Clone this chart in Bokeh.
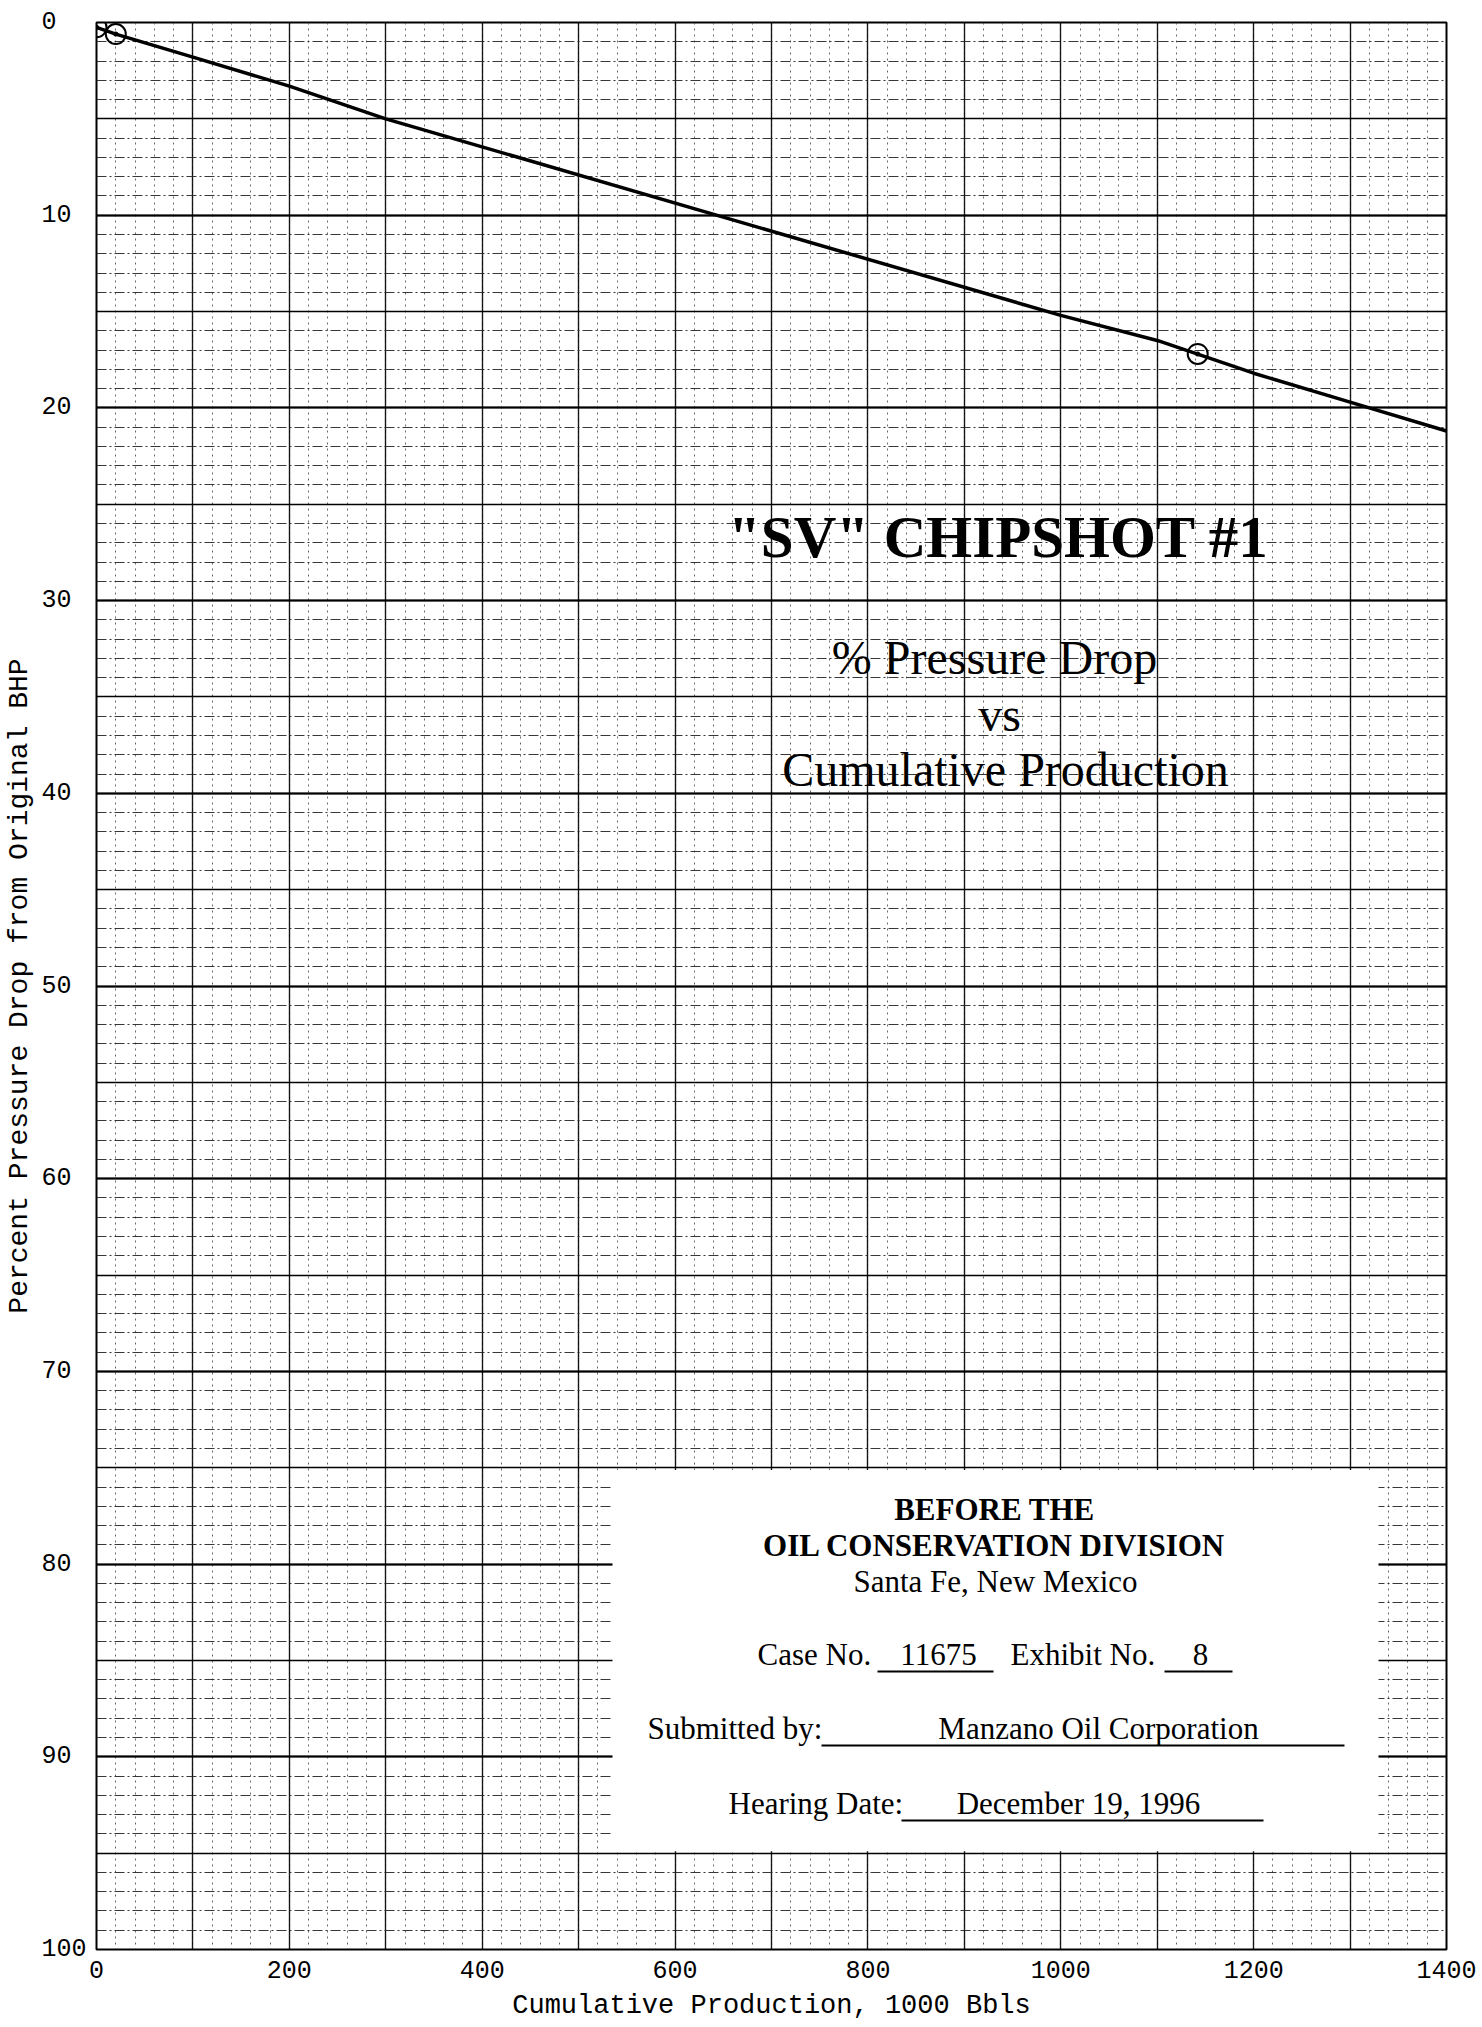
from bokeh.plotting import figure
from bokeh.models import (Range1d, SingleIntervalTicker, FixedTicker, Grid, BoxAnnotation,
                          CustomJSTickFormatter)
from bokeh.core.properties import value
from bokeh.embed import file_html
from bokeh.resources import INLINE

# ---------------- data ----------------
measured_x = [0, 20, 1142]          # cumulative production, 1000 Bbls
measured_y = [0.25, 0.6, 17.2]      # percent pressure drop
trend_x = [0, 20, 100, 200, 300, 1000, 1100, 1200, 1300, 1400]
trend_y = [0.25, 0.6, 1.8, 3.3, 5.0, 15.2, 16.5, 18.2, 19.7, 21.2]

x_ticks = [0, 200, 400, 600, 800, 1000, 1200, 1400]
y_ticks = [0, 10, 20, 30, 40, 50, 60, 70, 80, 90, 100]

x_label = "Cumulative Production, 1000 Bbls"
y_label = "Percent Pressure Drop from Original BHP"
title_text = '"SV" CHIPSHOT #1'
subtitle_lines = ["% Pressure Drop", "vs", "Cumulative Production"]
box_bold_lines = ["BEFORE THE", "OIL CONSERVATION DIVISION"]
box_place = "Santa Fe, New Mexico"
case_no = "11675"
exhibit_no = "8"
submitted_by = "Manzano Oil Corporation"
hearing_date = "December 19, 1996"

# ---------------- layout helpers (page pixels -> data units) ----------------
FRAME_L, FRAME_T, FRAME_W, FRAME_H = 96, 22, 1350, 1927
BORDER_B, BORDER_R = 77, 30


def X(px):
    return (px - FRAME_L) * 1400.0 / FRAME_W


def Y(py):
    return (py - FRAME_T) * 100.0 / FRAME_H


def YB(py, fs):
    # anchor for a text whose baseline should sit at page pixel py
    return Y(py - 0.42 * fs)


p = figure(width=FRAME_L + FRAME_W + BORDER_R, height=FRAME_T + FRAME_H + BORDER_B,
           x_range=Range1d(0, 1400), y_range=Range1d(100, 0),
           output_backend="svg", toolbar_location=None,
           min_border_left=FRAME_L, min_border_right=BORDER_R,
           min_border_top=FRAME_T, min_border_bottom=BORDER_B,
           background_fill_color="white", border_fill_color="white",
           outline_line_color="black", outline_line_width=2)

# axes
for ax in (p.xaxis, p.yaxis):
    ax.axis_line_color = None
    ax.major_tick_line_color = None
    ax.minor_tick_line_color = None
    ax.major_tick_out = 0
    ax.major_tick_in = 0
    ax.minor_tick_out = 0
    ax.minor_tick_in = 0
    ax.major_label_text_font = "Liberation Mono"
    ax.major_label_text_font_size = "25px"
    ax.major_label_text_color = "black"
    ax.axis_label_text_font = "Liberation Mono"
    ax.axis_label_text_font_style = "normal"
    ax.axis_label_text_color = "black"

p.xaxis.axis_label_text_font_size = "27px"
p.yaxis.axis_label_text_font_size = "28px"
p.xaxis.major_label_standoff = 11
p.xaxis.axis_label_standoff = 10
p.yaxis.major_label_standoff = 10
p.yaxis.axis_label_standoff = 3

p.xaxis.ticker = FixedTicker(ticks=x_ticks)
p.yaxis.ticker = FixedTicker(ticks=y_ticks)
p.xaxis.axis_label = x_label
p.yaxis.axis_label = y_label
p.yaxis.formatter = CustomJSTickFormatter(code="return String(tick).padEnd(3, '\\u00a0');")

# graph-paper grid
p.xgrid.ticker = SingleIntervalTicker(interval=100, num_minor_ticks=5)
p.xgrid.grid_line_color = "black"
p.xgrid.grid_line_width = 1.4
p.xgrid.grid_line_alpha = 0.9
p.xgrid.minor_grid_line_color = "#444444"
p.xgrid.minor_grid_line_dash = "2 4"
p.xgrid.minor_grid_line_width = 1
p.xgrid.minor_grid_line_alpha = 0.8

p.ygrid.ticker = SingleIntervalTicker(interval=5, num_minor_ticks=5)
p.ygrid.grid_line_color = "black"
p.ygrid.grid_line_width = 1.5
p.ygrid.minor_grid_line_color = "#222222"
p.ygrid.minor_grid_line_dash = "10 3 2 3"
p.ygrid.minor_grid_line_width = 1
p.ygrid.minor_grid_line_alpha = 0.9

g10 = Grid(dimension=1, ticker=SingleIntervalTicker(interval=10),
           grid_line_color="black", grid_line_width=2.2)
p.add_layout(g10)

# white label area
box = BoxAnnotation(left=X(612), right=X(1378), top=75.12, bottom=94.9,
                    fill_color="white", fill_alpha=1.0, line_color=None, level="underlay")
p.add_layout(box)

# data
p.line(trend_x, trend_y, line_color="black", line_width=3.5)
p.scatter(measured_x, measured_y, marker="circle_dot", size=20, fill_color=None,
          line_color="black", line_width=2)

serif = value("Liberation Serif")

# title block
p.text(x=[X(998)], y=[YB(561, 59)], text=[title_text], text_font=serif, text_font_size="59px",
       text_font_style="bold", text_align="center", text_baseline="alphabetic", text_color="black")
p.text(x=[X(994), X(999), X(1005)], y=[YB(677, 48), YB(734, 48), YB(789, 48)], text=subtitle_lines,
       text_font=serif, text_font_size="48px", text_align="center",
       text_baseline="alphabetic", text_color="black")

# label box texts
FS = 31
p.text(x=[X(994), X(994)], y=[YB(1522, FS), YB(1558, FS)], text=box_bold_lines, text_font=serif,
       text_font_size="31px", text_font_style="bold", text_align="center",
       text_baseline="alphabetic", text_color="black")
p.text(x=[X(995)], y=[YB(1594, FS)], text=[box_place], text_font=serif, text_font_size="31px",
       text_align="center", text_baseline="alphabetic", text_color="black")
p.text(x=[X(757), X(1010), X(647), X(728)],
       y=[YB(1667, FS), YB(1667, FS), YB(1741, FS), YB(1816, FS)],
       text=["Case No.", "Exhibit No.", "Submitted by:", "Hearing Date:"],
       text_font=serif, text_font_size="31px", text_align="left",
       text_baseline="alphabetic", text_color="black")
p.text(x=[X(938), X(1200), X(1098), X(1078)],
       y=[YB(1667, FS), YB(1667, FS), YB(1741, FS), YB(1816, FS)],
       text=[case_no, exhibit_no, submitted_by, hearing_date],
       text_font=serif, text_font_size="31px", text_align="center",
       text_baseline="alphabetic", text_color="black")
p.segment(x0=[X(877), X(1164), X(821), X(901)], y0=[Y(1671), Y(1671), Y(1745), Y(1820)],
          x1=[X(993), X(1232), X(1344), X(1263)], y1=[Y(1671), Y(1671), Y(1745), Y(1820)],
          line_color="black", line_width=2)

open("out.html", "w").write(file_html(p, INLINE))
